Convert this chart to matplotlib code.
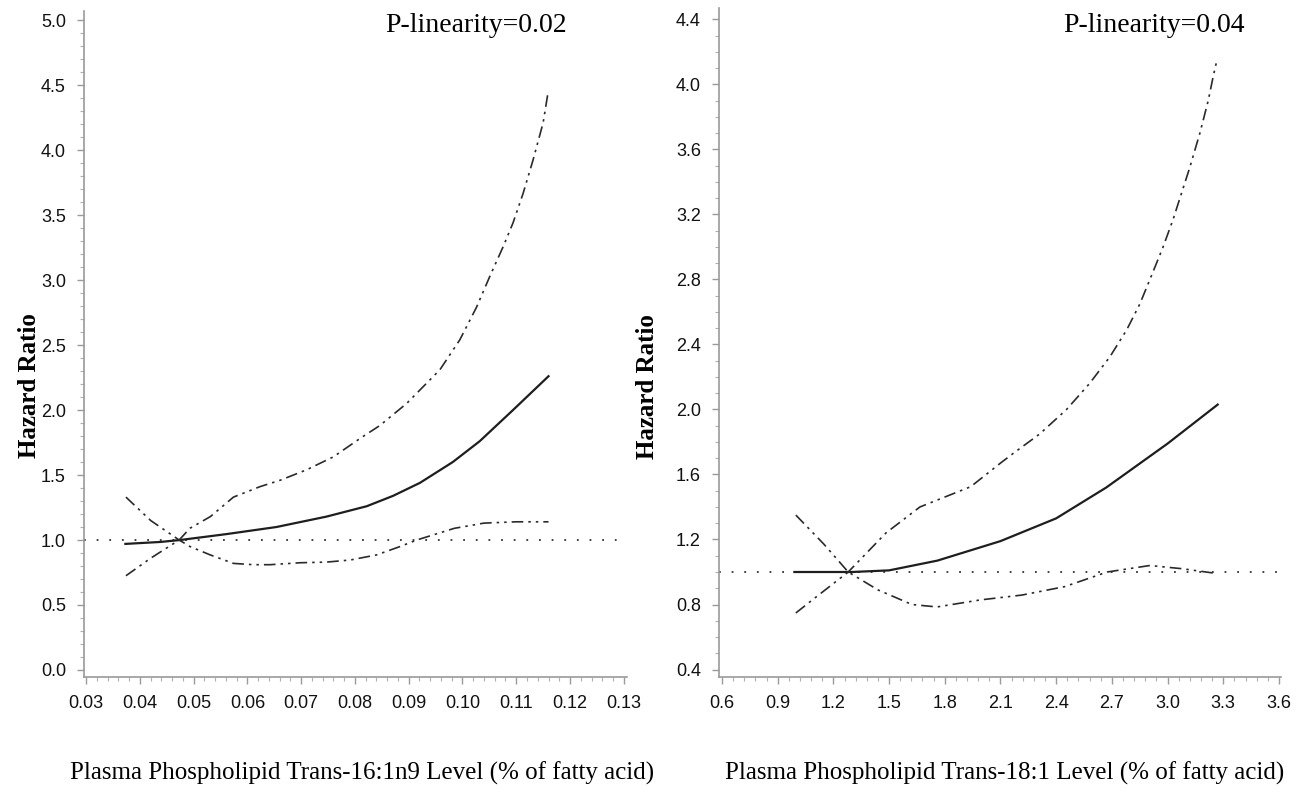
import matplotlib
matplotlib.use('Agg')
import matplotlib.pyplot as plt
from matplotlib.ticker import MultipleLocator, AutoMinorLocator, FormatStrFormatter

# left panel: trans-16:1n9
x16_hr = [0.0373, 0.0438, 0.0475, 0.0562, 0.0654, 0.0747, 0.0822, 0.0871, 0.0921, 0.0982, 0.1032, 0.1094, 0.116]
hr16 = [0.97, 0.985, 1.0, 1.046, 1.10, 1.18, 1.26, 1.34, 1.44, 1.60, 1.76, 2.00, 2.26]
x16_up = [0.0374, 0.042, 0.0473, 0.0493, 0.0531, 0.0574, 0.0623, 0.0661, 0.071, 0.076, 0.0809, 0.0846,
          0.0896, 0.0958, 0.0995, 0.1026, 0.1051, 0.1076, 0.1094, 0.1113, 0.1131, 0.115, 0.1159]
up16 = [0.725, 0.86, 1.0, 1.09, 1.18, 1.33, 1.41, 1.46, 1.54, 1.64, 1.78, 1.88,
        2.05, 2.31, 2.54, 2.79, 3.03, 3.26, 3.44, 3.67, 3.92, 4.21, 4.44]
x16_lo = [0.0374, 0.042, 0.0473, 0.0493, 0.0531, 0.0574, 0.0611, 0.0642, 0.0698, 0.0747, 0.0791, 0.084,
          0.0884, 0.0915, 0.0985, 0.104, 0.110, 0.116]
lo16 = [1.33, 1.15, 1.0, 0.95, 0.885, 0.82, 0.81, 0.81, 0.825, 0.83, 0.846, 0.885,
        0.95, 1.0, 1.09, 1.13, 1.14, 1.14]

# right panel: trans-18:1
x18_hr = [0.99, 1.2, 1.3, 1.5, 1.76, 2.1, 2.4, 2.67, 3.0, 3.27]
hr18 = [1.0, 1.0, 1.0, 1.01, 1.07, 1.19, 1.33, 1.52, 1.79, 2.03]
x18_up = [0.998, 1.1, 1.28, 1.483, 1.666, 1.94, 2.10, 2.169, 2.312, 2.456, 2.58, 2.69, 2.78, 2.851,
          2.905, 2.976, 3.03, 3.075, 3.12, 3.174, 3.219, 3.246, 3.267]
up18 = [0.748, 0.84, 1.0, 1.24, 1.40, 1.525, 1.67, 1.73, 1.85, 2.00, 2.16, 2.325, 2.49, 2.65,
        2.80, 3.00, 3.17, 3.33, 3.49, 3.70, 3.90, 4.05, 4.155]
x18_lo = [0.998, 1.15, 1.28, 1.44, 1.623, 1.758, 1.99, 2.215, 2.446, 2.675, 2.905, 3.08, 3.27]
lo18 = [1.35, 1.17, 1.0, 0.89, 0.80, 0.785, 0.828, 0.858, 0.91, 1.0, 1.04, 1.02, 0.99]

p_texts = ['P-linearity=0.02', 'P-linearity=0.04']
x_titles = ['Plasma Phospholipid Trans-16:1n9 Level (% of fatty acid)',
            'Plasma Phospholipid Trans-18:1 Level (% of fatty acid)']

W, H = 1306, 792
fig = plt.figure(figsize=(W / 100, H / 100), dpi=100)

ax1 = fig.add_axes([84 / W, 1 - 677 / H, (627 - 84) / W, (677 - 11) / H])
ax2 = fig.add_axes([719 / W, 1 - 677 / H, (1281 - 719) / W, (677 - 8) / H])

ci_style = (0, (7, 3, 1.5, 3, 1.5, 3))


def style_axes(ax):
    for s in ['top', 'right']:
        ax.spines[s].set_visible(False)
    for s in ['left', 'bottom']:
        ax.spines[s].set_color('#9a9a9a')
        ax.spines[s].set_linewidth(1.2)
    ax.tick_params(which='major', length=5, width=1, color='#9a9a9a', labelsize=13, pad=8)
    ax.tick_params(which='minor', length=3, width=0.8, color='#b0b0b0')
    for lab in ax.get_xticklabels() + ax.get_yticklabels():
        lab.set_family('Liberation Sans')
        lab.set_color('#111111')


def draw_panel(ax, xh, yh, xu, yu, xl, yl):
    ax.axhline(1.0, color='#333333', lw=1.3, linestyle=(0, (1, 6)))
    ax.plot(xh, yh, color='#1e1e1e', lw=1.6)
    ax.plot(xu, yu, color='#2a2a2a', lw=1.2, linestyle=ci_style)
    ax.plot(xl, yl, color='#2a2a2a', lw=1.2, linestyle=ci_style)


# left
draw_panel(ax1, x16_hr, hr16, x16_up, up16, x16_lo, lo16)
ax1.set_xlim(0.0296, 0.1306)
ax1.set_ylim(-0.054, 5.07)
ax1.xaxis.set_major_locator(MultipleLocator(0.01))
ax1.xaxis.set_minor_locator(AutoMinorLocator(5))
ax1.yaxis.set_major_locator(MultipleLocator(0.5))
ax1.yaxis.set_minor_locator(AutoMinorLocator(5))
ax1.xaxis.set_major_formatter(FormatStrFormatter('%.2f'))
ax1.yaxis.set_major_formatter(FormatStrFormatter('%.1f'))
style_axes(ax1)

# right
draw_panel(ax2, x18_hr, hr18, x18_up, up18, x18_lo, lo18)
ax2.set_xlim(0.584, 3.611)
ax2.set_ylim(0.354, 4.47)
ax2.xaxis.set_major_locator(MultipleLocator(0.3))
ax2.xaxis.set_minor_locator(AutoMinorLocator(5))
ax2.yaxis.set_major_locator(MultipleLocator(0.4))
ax2.yaxis.set_minor_locator(AutoMinorLocator(4))
ax2.xaxis.set_major_formatter(FormatStrFormatter('%.1f'))
ax2.yaxis.set_major_formatter(FormatStrFormatter('%.1f'))
style_axes(ax2)

# texts
serif = 'Liberation Serif'
fig.text(567 / W, 1 - 25 / H, p_texts[0], ha='right', va='center', family=serif, fontsize=20)
fig.text(1245 / W, 1 - 25 / H, p_texts[1], ha='right', va='center', family=serif, fontsize=20)
fig.text(362 / W, 1 - 773 / H, x_titles[0], ha='center', va='center', family=serif, fontsize=18)
fig.text(1005 / W, 1 - 773 / H, x_titles[1], ha='center', va='center', family=serif, fontsize=18)
fig.text(30 / W, 1 - 386 / H, 'Hazard Ratio', rotation=90, ha='center', va='center',
         family=serif, fontweight='bold', fontsize=18)
fig.text(648 / W, 1 - 387 / H, 'Hazard Ratio', rotation=90, ha='center', va='center',
         family=serif, fontweight='bold', fontsize=18)

fig.savefig('out.png', dpi=100)
